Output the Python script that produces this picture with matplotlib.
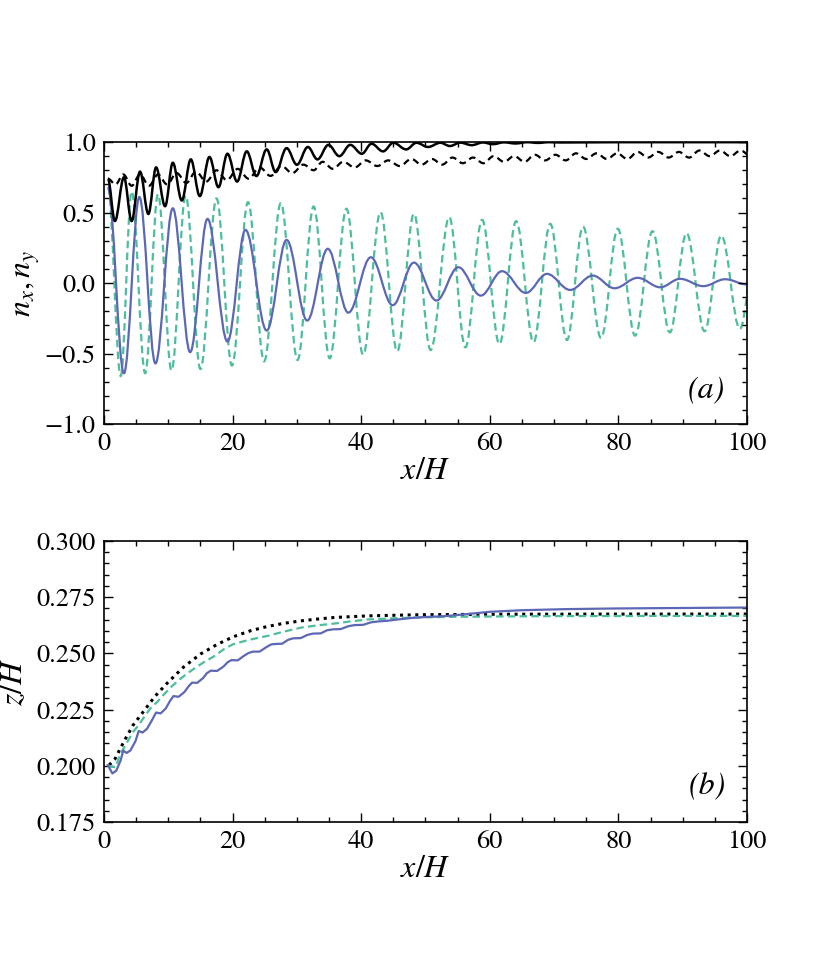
import matplotlib
matplotlib.use("Agg")
import matplotlib.pyplot as plt
from matplotlib.path import Path
from matplotlib.patches import PathPatch
from matplotlib.ticker import MultipleLocator, FuncFormatter

plt.rcParams["font.family"] = "STIXGeneral"
plt.rcParams["mathtext.fontset"] = "stix"

BLUE = "#5c67b5"
GREEN = "#4cbd9d"

# --- panel (a): extrema of the oscillating curves ---
blue_top_x = [0.6, 3.1, 5.5, 8.0, 10.7, 13.4, 16.1, 19.2, 22.0, 25.3,
              28.4, 31.6, 34.8, 38.0, 41.5, 44.9, 48.2, 51.7, 55.1, 58.6,
              61.9, 65.6, 68.9, 72.5, 76.0, 79.4, 83.0, 86.5, 89.6, 93.2,
              96.6, 100.0]
blue_top_y = [0.68, -0.64, 0.61, -0.57, 0.53, -0.49, 0.455, -0.415, 0.377, -0.337,
              0.306, -0.266, 0.243, -0.21, 0.183, -0.157, 0.145, -0.124, 0.112, -0.089,
              0.084, -0.07, 0.065, -0.049, 0.053, -0.037, 0.037, -0.03, 0.03, -0.022,
              0.027, -0.01]

green_top_x = [0.6, 2.6, 4.3, 6.4, 8.4, 10.5, 12.7, 15.0, 17.5, 19.9,
               22.4, 24.9, 27.5, 30.1, 32.6, 35.1, 37.7, 40.3, 43.0, 45.6,
               48.2, 50.8, 53.7, 56.2, 58.8, 61.5, 64.1, 66.8, 69.4, 72.0,
               74.5, 77.3, 79.9, 82.6, 85.3, 88.0, 90.6, 93.4, 96.0, 98.9,
               101.5]
green_top_y = [0.68, -0.66, 0.65, -0.64, 0.63, -0.62, 0.62, -0.61, 0.60, -0.585,
               0.574, -0.556, 0.567, -0.546, 0.543, -0.534, 0.527, -0.508, 0.503, -0.484,
               0.491, -0.475, 0.467, -0.456, 0.448, -0.433, 0.439, -0.42, 0.42, -0.404,
               0.40, -0.39, 0.385, -0.373, 0.368, -0.35, 0.354, -0.342, 0.337, -0.325,
               0.32]

black_top_x = [0.6, 1.7, 3.1, 4.3, 5.6, 6.9, 8.1, 9.5, 10.7, 12.1,
               13.5, 14.9, 16.4, 17.8, 19.2, 20.7, 22.2, 23.7, 25.3, 26.7,
               28.4, 30.0, 31.7, 33.2, 34.9, 36.6, 38.3, 40.1, 41.6, 43.4,
               45.0, 47.0, 48.6, 50.4, 52.3, 53.8, 55.4, 57.2, 58.9, 60.5,
               62.2, 64.0, 65.8, 67.5, 69.2, 71.0, 80.0, 100.0]
black_top_y = [0.74, 0.44, 0.75, 0.44, 0.79, 0.49, 0.82, 0.545, 0.853, 0.586,
               0.877, 0.617, 0.894, 0.68, 0.917, 0.72, 0.934, 0.759, 0.948, 0.787,
               0.957, 0.839, 0.965, 0.877, 0.98, 0.90, 0.98, 0.917, 0.988, 0.934,
               0.995, 0.948, 0.995, 0.965, 0.995, 0.972, 0.996, 0.978, 0.997, 0.985,
               0.998, 0.99, 0.999, 0.994, 0.999, 0.997, 0.999, 0.999]

blackd_top_x = [0.6, 1.8, 3.0, 4.3, 5.6, 7.0, 8.4, 9.8, 11.3, 12.8,
                14.3, 15.9, 17.5, 19.1, 20.8, 22.5, 24.2, 25.9, 27.6, 29.3,
                31.0, 32.6, 34.0, 35.6, 37.2, 39.0, 40.7, 42.5, 44.2, 46.0,
                47.8, 49.4, 51.0, 52.6, 54.2, 55.8, 57.4, 59.0, 60.6, 62.2,
                63.8, 65.4, 67.0, 68.6, 70.2, 71.8, 73.4, 75.0, 76.6, 78.2,
                79.8, 81.4, 83.0, 84.6, 86.2, 87.8, 89.4, 91.0, 92.6, 94.2,
                95.8, 97.4, 99.0, 100.6]
blackd_top_y = [0.74, 0.70, 0.77, 0.69, 0.77, 0.69, 0.77, 0.70, 0.78, 0.71,
                0.79, 0.72, 0.80, 0.73, 0.81, 0.74, 0.82, 0.76, 0.83, 0.78,
                0.84, 0.80, 0.86, 0.81, 0.86, 0.82, 0.87, 0.83, 0.87, 0.83,
                0.88, 0.84, 0.88, 0.84, 0.89, 0.85, 0.89, 0.85, 0.90, 0.86,
                0.90, 0.86, 0.91, 0.87, 0.91, 0.87, 0.92, 0.88, 0.92, 0.88,
                0.92, 0.88, 0.93, 0.89, 0.93, 0.89, 0.93, 0.89, 0.94, 0.90,
                0.94, 0.90, 0.94, 0.90]

# --- panel (b): z/H ---
blue_bot_x = [0.6, 1.3, 1.9, 2.6, 3.0, 3.5, 4.1, 4.9, 5.4, 6.0,
              6.7, 7.5, 8.1, 8.8, 9.6, 10.3, 10.8, 11.6, 12.5, 13.2,
              13.7, 14.5, 15.4, 16.0, 16.6, 17.6, 18.6, 19.2, 19.8, 20.8,
              21.8, 22.5, 23.2, 24.2, 25.2, 26.0, 26.7, 27.7, 28.6, 29.4,
              30.6, 31.6, 32.5, 33.7, 34.7, 35.6, 36.8, 38.0, 39.0, 40.3,
              41.5, 42.6, 44.0, 46.0, 48.0, 50.0, 52.0, 54.0, 56.5, 60.0,
              65.0, 72.0, 80.0, 90.0, 100.0]
blue_bot_y = [0.2003, 0.1966, 0.1978, 0.2025, 0.2068, 0.2057, 0.2068, 0.2110, 0.2155, 0.2148,
              0.2165, 0.2205, 0.2237, 0.2233, 0.2255, 0.2290, 0.2310, 0.2307, 0.2328, 0.2355,
              0.2370, 0.2369, 0.2390, 0.2412, 0.2423, 0.2422, 0.2442, 0.2460, 0.2470, 0.2469,
              0.2490, 0.2502, 0.2508, 0.2508, 0.2527, 0.2540, 0.2542, 0.2543, 0.2560, 0.2567,
              0.2568, 0.2582, 0.2588, 0.2589, 0.2603, 0.2607, 0.2608, 0.2621, 0.2626, 0.2627,
              0.2638, 0.2642, 0.2645, 0.2652, 0.2658, 0.2662, 0.2664, 0.2668, 0.2675, 0.2685,
              0.2692, 0.2697, 0.2700, 0.2702, 0.2704]

green_bot_x = [0.6, 1.2, 1.8, 2.5, 3.5, 4.5, 5.3, 6.2, 7.2, 8.3,
               9.4, 10.6, 11.8, 13.0, 14.3, 15.6, 17.0, 18.8, 20.1, 22.5,
               25.3, 28.0, 30.7, 33.3, 35.9, 38.5, 41.1, 45.0, 49.0, 55.0,
               70.0, 100.0]
green_bot_y = [0.2003, 0.1996, 0.1994, 0.2050, 0.2100, 0.2150, 0.2178, 0.2215, 0.2255, 0.2285,
               0.2320, 0.2355, 0.2385, 0.2412, 0.2438, 0.2462, 0.2485, 0.2522, 0.2541, 0.2560,
               0.2577, 0.2597, 0.2615, 0.2625, 0.2633, 0.2643, 0.2651, 0.2656, 0.2660, 0.2663,
               0.2666, 0.2667]

black_bot_x = [0.8, 1.7, 3.1, 4.5, 6.1, 7.9, 9.8, 12.4, 15.0, 17.6,
               20.1, 22.7, 25.3, 28.0, 30.7, 33.3, 35.9, 41.1, 49.0, 60.0,
               80.0, 100.0]
black_bot_y = [0.2003, 0.2030, 0.2108, 0.2180, 0.2240, 0.2308, 0.2367, 0.2440, 0.2497, 0.2540,
               0.2574, 0.2600, 0.2619, 0.2634, 0.2645, 0.2653, 0.2660, 0.2667, 0.2672, 0.2674,
               0.2675, 0.2675]


def smooth_path(xs, ys, k=0.364):
    # cubic segments with flat tangents at each read-off extremum
    verts = [(xs[0], ys[0])]
    codes = [Path.MOVETO]
    for i in range(1, len(xs)):
        dx = xs[i] - xs[i - 1]
        verts += [(xs[i - 1] + k * dx, ys[i - 1]), (xs[i] - k * dx, ys[i]), (xs[i], ys[i])]
        codes += [Path.CURVE4] * 3
    return Path(verts, codes)


def minus_fmt(fmt):
    return FuncFormatter(lambda v, pos: format(v, fmt).replace("-", "\u2212"))


def style_axes(ax):
    ax.tick_params(which="both", direction="in", top=True, right=True,
                   labelsize=19, width=1.0, pad=6)
    ax.tick_params(which="major", length=6.5)
    ax.tick_params(which="minor", length=3.5)
    for s in ax.spines.values():
        s.set_linewidth(1.2)
    ax.xaxis.set_major_locator(MultipleLocator(20))
    ax.xaxis.set_minor_locator(MultipleLocator(5))
    ax.set_xlim(0, 100)
    ax.set_xlabel("$x/H$", fontsize=23, labelpad=0)


fig = plt.figure(figsize=(8.30, 9.69), dpi=100)
ax1 = fig.add_axes([0.1253, 0.5624, 0.7747, 0.2910])
ax2 = fig.add_axes([0.1253, 0.1517, 0.7747, 0.2900])

# === (a) ===
ax1.add_patch(PathPatch(smooth_path(green_top_x, green_top_y), fill=False,
                        edgecolor=GREEN, lw=1.6, linestyle=(0, (3.4, 1.9))))
ax1.add_patch(PathPatch(smooth_path(blue_top_x, blue_top_y), fill=False,
                        edgecolor=BLUE, lw=1.6))
ax1.add_patch(PathPatch(smooth_path(blackd_top_x, blackd_top_y), fill=False,
                        edgecolor="black", lw=1.6, linestyle=(0, (3.0, 2.0))))
ax1.add_patch(PathPatch(smooth_path(black_top_x, black_top_y), fill=False,
                        edgecolor="black", lw=1.8))
ax1.set_ylim(-1.0, 1.0)
ax1.yaxis.set_major_locator(MultipleLocator(0.5))
ax1.yaxis.set_minor_locator(MultipleLocator(0.1))
ax1.yaxis.set_major_formatter(minus_fmt(".1f"))
ax1.set_ylabel("$n_x, n_y$", fontsize=23, labelpad=2)
style_axes(ax1)
ax1.text(0.937, 0.12, "(a)", transform=ax1.transAxes, fontsize=23,
         style="italic", ha="center", va="center")

# === (b) ===
ax2.plot(black_bot_x, black_bot_y, color="black", lw=2.2, linestyle=(0, (1, 1.5)))
ax2.plot(green_bot_x, green_bot_y, color=GREEN, lw=1.6, linestyle=(0, (3.4, 1.9)))
ax2.plot(blue_bot_x, blue_bot_y, color=BLUE, lw=1.6)
ax2.set_ylim(0.175, 0.300)
ax2.yaxis.set_major_locator(MultipleLocator(0.025))
ax2.yaxis.set_minor_locator(MultipleLocator(0.005))
ax2.yaxis.set_major_formatter(minus_fmt(".3f"))
ax2.set_ylabel("$z/H$", fontsize=23, labelpad=5)
style_axes(ax2)
ax2.text(0.938, 0.125, "(b)", transform=ax2.transAxes, fontsize=23,
         style="italic", ha="center", va="center")

plt.savefig("out.png", dpi=100)
plt.close()
